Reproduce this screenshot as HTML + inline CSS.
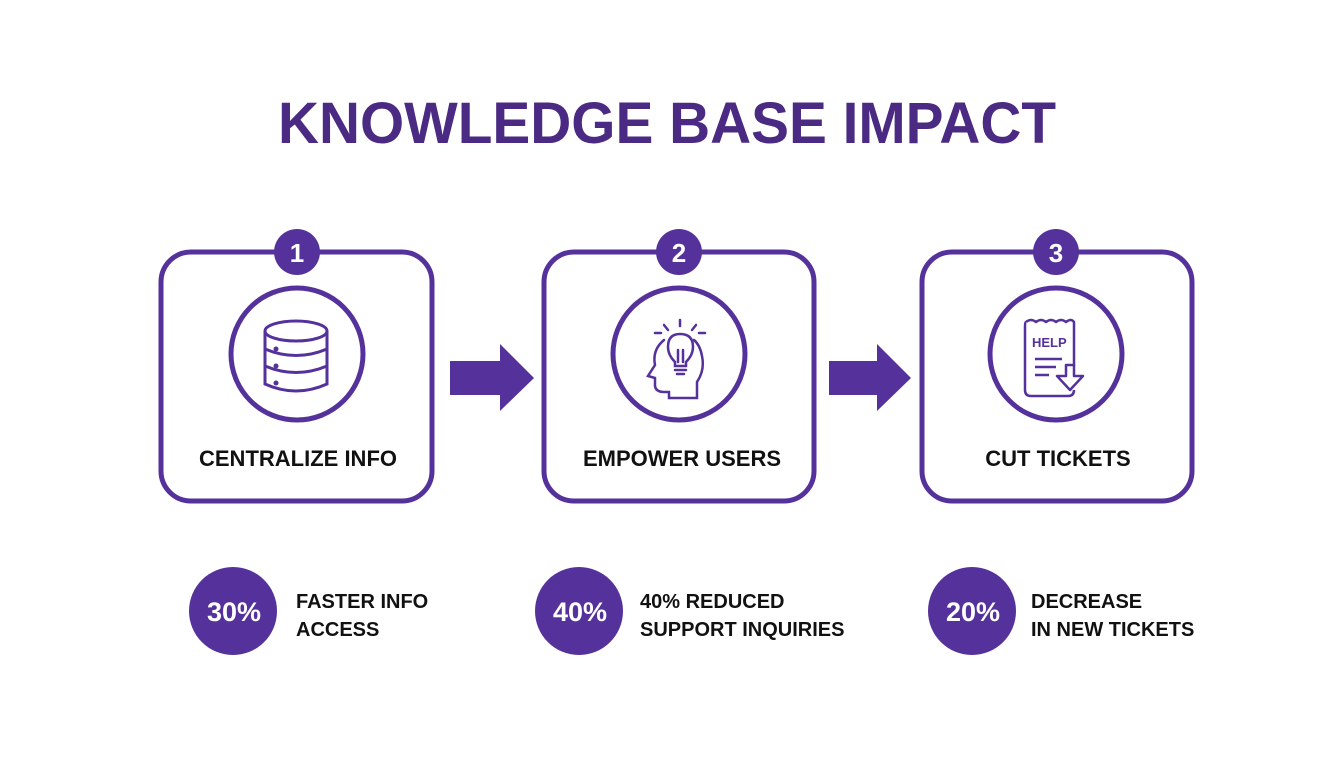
<!DOCTYPE html>
<html><head><meta charset="utf-8"><style>
html,body{margin:0;padding:0;background:#fff;width:1344px;height:768px;overflow:hidden}
svg{display:block}
text{font-family:"Liberation Sans",Arial,sans-serif;font-weight:bold}
</style></head><body>
<svg width="1344" height="768" viewBox="0 0 1344 768" xmlns="http://www.w3.org/2000/svg">
<rect width="1344" height="768" fill="#fff"/>
<text x="667" y="143" text-anchor="middle" font-size="58" fill="#4a2a82" textLength="778" lengthAdjust="spacingAndGlyphs">KNOWLEDGE BASE IMPACT</text>

<g fill="none" stroke="#55329b" stroke-width="5">
<rect x="161" y="252" width="271" height="249" rx="30"/>
<rect x="544" y="252" width="270" height="249" rx="30"/>
<rect x="922" y="252" width="270" height="249" rx="30"/>
<circle cx="297" cy="354" r="66"/>
<circle cx="679" cy="354" r="66"/>
<circle cx="1056" cy="354" r="66"/>
</g>
<g fill="#55329b">
<circle cx="297" cy="252" r="23"/>
<circle cx="679" cy="252" r="23"/>
<circle cx="1056" cy="252" r="23"/>
<polygon points="450,361 500,361 500,344 534,378 500,411 500,395 450,395"/>
<polygon points="829,361 877,361 877,344 911,378 877,411 877,395 829,395"/>
<circle cx="233" cy="611" r="44"/>
<circle cx="579" cy="611" r="44"/>
<circle cx="972" cy="611" r="44"/>
</g>
<g fill="#fff" font-size="26" text-anchor="middle">
<text x="297" y="262">1</text>
<text x="679" y="262">2</text>
<text x="1056" y="262">3</text>
</g>
<g fill="#fff" font-size="27" text-anchor="middle">
<text x="234" y="621">30%</text>
<text x="580" y="621">40%</text>
<text x="973" y="621">20%</text>
</g>
<g fill="#111" font-size="22" text-anchor="middle">
<text x="298" y="466">CENTRALIZE INFO</text>
<text x="682" y="466">EMPOWER USERS</text>
<text x="1058" y="466">CUT TICKETS</text>
</g>
<g fill="#111" font-size="20">
<text x="296" y="608">FASTER INFO</text>
<text x="296" y="636">ACCESS</text>
<text x="640" y="608">40% REDUCED</text>
<text x="640" y="636">SUPPORT INQUIRIES</text>
<text x="1031" y="608">DECREASE</text>
<text x="1031" y="636">IN NEW TICKETS</text>
</g>

<!-- database icon -->
<g fill="none" stroke="#55329b" stroke-width="3">
<ellipse cx="296" cy="331" rx="31" ry="10"/>
<path d="M265 331 V384 Q296 398 327 384 V331"/>
<path d="M265 349 Q296 362 327 349"/>
<path d="M265 366 Q296 379 327 366"/>
</g>
<g fill="#55329b"><circle cx="276" cy="349" r="2.5"/><circle cx="276" cy="366" r="2.5"/><circle cx="276" cy="383" r="2.5"/></g>

<!-- head + bulb -->
<g fill="none" stroke="#55329b" stroke-width="2.5" stroke-linecap="round">
<path d="M664 340 Q652 350 655 365 L648 376 L655 378 L655 386 Q656 392 664 392 L669 392 L669 398 L697 398 L697 382 Q705 370 702 356 Q700 345 694 340"/>
<path d="M680 334 Q668 334 668 347 Q668 355 675 362 L675 366 L686 366 L686 362 Q693 355 693 347 Q693 334 680 334 Z"/>
<path d="M675 370 H686 M677 374 H684"/>
<path d="M678 350 V362 M683 350 V362"/>
<path d="M680 320 V326 M664 325 L668 330 M696 325 L692 330 M655 333 H661 M699 333 H705"/>
</g>

<!-- HELP ticket -->
<g fill="none" stroke="#55329b" stroke-width="2.5" stroke-linejoin="round">
<path d="M1026 322 Q1031 318 1036 322 Q1041 318 1046 322 Q1051 318 1056 322 Q1061 318 1066 322 Q1071 318 1074 322 V366 M1074 390 Q1074 396 1068 396 H1031 Q1025 396 1025 390 V326 Q1025 322 1026 322"/>
<path d="M1066 365 H1074 V376 H1083 L1070 390 L1057 376 H1066 Z"/>
<path d="M1035 359 H1062 M1035 367 H1056 M1035 375 H1049"/>
</g>
<text x="1032" y="347" font-size="13" fill="#55329b">HELP</text>
</svg>
</body></html>
